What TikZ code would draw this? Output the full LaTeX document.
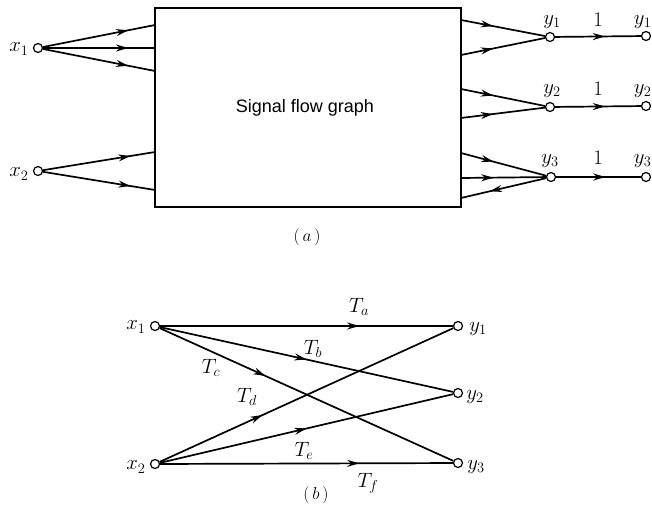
\documentclass[tikz,border=0pt]{standalone}
\usepackage{fontspec}
\newfontfamily\sansf{Liberation Sans}
\usetikzlibrary{arrows.meta,decorations.markings,calc}
\tikzset{
  dot/.style={circle, draw, fill=white, inner sep=0pt, minimum size=9pt, line width=1.2pt},
  edge/.style={line width=1.7pt},
  midarrow/.style={postaction={decorate}, decoration={markings, mark=at position #1 with {\arrow{Stealth[length=12pt,width=7pt]}}}},
  lab/.style={font=\fontsize{21}{24}\selectfont, inner sep=0pt},
  captext/.style={font=\fontsize{18}{20}\selectfont, inner sep=0pt},
}
\begin{document}
\begin{tikzpicture}[x=1pt,y=-1pt]
\useasboundingbox (0,0) rectangle (652,506);
% ---------- (a) ----------
\node[draw, line width=1.6pt, minimum width=306pt, minimum height=199pt, inner sep=0pt] (box) at (308,107.5) {};
\node[font=\sansf\fontsize{18}{21}\selectfont] (sfg) at (305,108) {Signal flow graph};
\node[dot] (x1) at (38,48) {};
\node[dot] (x2) at (38,171) {};
\node[lab] (lx1) at (19,49) {$x_1$};
\node[lab] (lx2) at (19,174) {$x_2$};
\coordinate (L1) at (155,25);
\coordinate (L2) at (155,48);
\coordinate (L3) at (155,71);
\coordinate (L4) at (155,152);
\coordinate (L5) at (155,190);
\coordinate (R1) at (461,20);
\coordinate (R2) at (461,55);
\coordinate (R3) at (461,89);
\coordinate (R4) at (461,118);
\coordinate (R5) at (461,153);
\coordinate (R6) at (461,178);
\coordinate (R7) at (461,198);
\node[dot] (ya1) at (550,37) {};
\node[dot] (ya2) at (550,107) {};
\node[dot] (ya3) at (551,177) {};
\node[dot] (za1) at (646,36) {};
\node[dot] (za2) at (646,106) {};
\node[dot] (za3) at (646,177) {};
\draw[edge, midarrow=0.76] (x1) -- (L1);
\draw[edge, midarrow=0.76] (x1) -- (L2);
\draw[edge, midarrow=0.76] (x1) -- (L3);
\draw[edge, midarrow=0.78] (x2) -- (L4);
\draw[edge, midarrow=0.78] (x2) -- (L5);
\draw[edge, midarrow=0.38] (R1) -- (ya1);
\draw[edge, midarrow=0.38] (R2) -- (ya1);
\draw[edge, midarrow=0.38] (R3) -- (ya2);
\draw[edge, midarrow=0.38] (R4) -- (ya2);
\draw[edge, midarrow=0.38] (R5) -- (ya3);
\draw[edge, midarrow=0.38] (R6) -- (ya3);
\draw[edge, midarrow=0.66] (ya3) -- (R7);
\draw[edge, midarrow=0.58] (ya1) -- (za1);
\draw[edge, midarrow=0.58] (ya2) -- (za2);
\draw[edge, midarrow=0.58] (ya3) -- (za3);
\node[lab] (ly1) at (552,22) {$y_1$};
\node[lab] (ly2) at (552,91) {$y_2$};
\node[lab] (ly3) at (550,161) {$y_3$};
\node[lab] (one1) at (598,20) {$1$};
\node[lab] (one2) at (598,89) {$1$};
\node[lab] (one3) at (598,158) {$1$};
\node[lab, anchor=east] (lz1) at (651.5,22) {$y_1$};
\node[lab, anchor=east] (lz2) at (651.5,91) {$y_2$};
\node[lab, anchor=east] (lz3) at (651.5,161) {$y_3$};
\node[captext] (capa) at (307,237) {$(\,a\,)$};
% ---------- (b) ----------
\node[dot] (bx1) at (155,326) {};
\node[dot] (bx2) at (155,464) {};
\node[dot] (by1) at (458,326) {};
\node[dot] (by2) at (458,393) {};
\node[dot] (by3) at (458,463) {};
\node[lab] (lbx1) at (136,327) {$x_1$};
\node[lab] (lbx2) at (136,467) {$x_2$};
\node[lab] (lby1) at (478,329) {$y_1$};
\node[lab] (lby2) at (475,397) {$y_2$};
\node[lab] (lby3) at (476,467) {$y_3$};
\draw[edge, midarrow=0.68] (bx1) -- (by1);
\draw[edge, midarrow=0.50] (bx1) -- (by2);
\draw[edge, midarrow=0.36] (bx1) -- (by3);
\draw[edge, midarrow=0.35] (bx2) -- (by1);
\draw[edge, midarrow=0.50] (bx2) -- (by2);
\draw[edge, midarrow=0.68] (bx2) -- (by3);
\node[lab] (ta) at (359,307) {$T_a$};
\node[lab] (tb) at (313,349) {$T_b$};
\node[lab] (tc) at (211,368) {$T_c$};
\node[lab] (td) at (247,397) {$T_d$};
\node[lab] (te) at (304,451) {$T_e$};
\node[lab] (tf) at (368,483) {$T_f$};
\node[captext] (capb) at (316,495) {$(\,b\,)$};
\end{tikzpicture}
\end{document}
